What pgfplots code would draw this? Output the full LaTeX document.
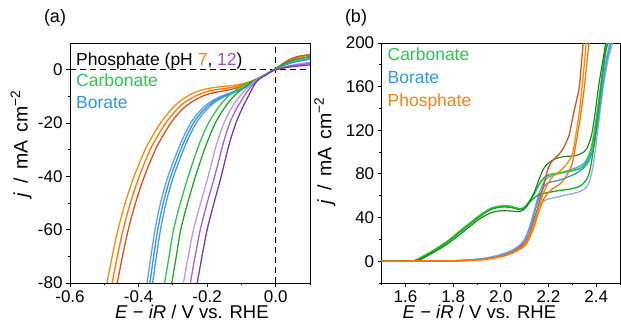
\documentclass[border=0pt]{standalone}
\usepackage{fontspec}
\setmainfont{Liberation Sans}
\usepackage{pgfplots}
\pgfplotsset{compat=1.18}
\definecolor{orA}{RGB}{255,140,0}
\definecolor{orB}{RGB}{246,120,12}
\definecolor{redO}{RGB}{222,78,22}
\definecolor{bluA}{RGB}{55,145,230}
\definecolor{bluB}{RGB}{85,165,240}
\definecolor{bluC}{RGB}{70,155,225}
\definecolor{lav}{RGB}{150,165,245}
\definecolor{grnA}{RGB}{45,200,60}
\definecolor{grnB}{RGB}{25,170,35}
\definecolor{grnD}{RGB}{20,125,25}
\definecolor{purA}{RGB}{195,150,235}
\definecolor{purB}{RGB}{160,100,215}
\definecolor{purC}{RGB}{120,55,185}
\definecolor{txtgreen}{RGB}{40,200,80}
\definecolor{txtblue}{RGB}{50,150,240}
\definecolor{txtorange}{RGB}{245,130,20}
\definecolor{txtpurple}{RGB}{160,80,200}
\newcommand{\ylab}{\textit{j}\hspace{0.45em}/\hspace{0.45em}mA\hspace{0.4em}cm\textsuperscript{−2}}
\pgfplotsset{
  myax/.style={
    scale only axis, width=240pt, height=240pt, anchor=south west,
    tick align=outside, tick pos=left,
    major tick length=4pt, minor tick length=2.5pt,
    axis line style={line width=0.9pt},
    every tick/.style={black, line width=0.9pt},
    tick label style={font=\fontsize{17}{17}\selectfont},
    xlabel style={font=\fontsize{18.5}{18.5}\selectfont},
    ylabel style={font=\fontsize{19.5}{19.5}\selectfont},
    /pgf/number format/assume math mode=true,
    clip=true,
    every axis plot/.append style={line width=1.3pt, no markers, smooth, tension=0.5},
  }
}
\begin{document}
\begin{tikzpicture}[x=1pt,y=1pt]
\useasboundingbox (0,0) rectangle (621,323);
\node[font=\fontsize{18}{18}\selectfont] at (55,305) {(a)};
\node[font=\fontsize{18}{18}\selectfont] at (356,305) {(b)};
\begin{axis}[myax, at={(70pt,40pt)},
  xmin=-0.6, xmax=0.1, ymin=-80, ymax=10,
  xtick={-0.6,-0.4,-0.2,0}, minor xtick={-0.5,-0.3,-0.1,0.1},
  ytick={-80,-60,-40,-20,0}, minor ytick={-70,-50,-30,-10},
  xticklabel style={/pgf/number format/fixed, /pgf/number format/fixed zerofill, /pgf/number format/precision=1},
  xlabel={\textit{E} − \textit{iR} / V vs. RHE},
  ylabel={\ylab},
  xlabel style={at={(axis description cs:0.508,-0.15)}, anchor=base},
  ylabel style={at={(axis description cs:-0.204,0.58)}, anchor=center},
]
\addplot[black, line width=1pt, dash pattern=on 6pt off 4pt, sharp plot] coordinates {(-0.6,0) (0.1,0)};
\addplot[black, line width=1pt, dash pattern=on 6pt off 4pt, sharp plot] coordinates {(0,-80) (0,10)};
% Phosphate pH 7
\addplot[orA] coordinates {(-0.492,-80) (-0.477,-70) (-0.460,-60) (-0.439,-50) (-0.413,-40) (-0.381,-30) (-0.36,-25) (-0.336,-20) (-0.312,-16) (-0.29,-13) (-0.265,-10.5) (-0.24,-8.8) (-0.215,-7.6) (-0.19,-6.9) (-0.16,-6.4) (-0.13,-6) (-0.1,-5.4) (-0.08,-4.7) (-0.065,-4.1) (-0.045,-3) (-0.025,-1.6) (-0.01,-0.5) (0,0.2) (0.02,1.8) (0.04,3.3) (0.06,4.4) (0.08,5.1) (0.1,5.4)};
\addplot[orB] coordinates {(-0.477,-80) (-0.462,-70) (-0.445,-60) (-0.424,-50) (-0.398,-40) (-0.366,-30) (-0.345,-25) (-0.321,-20) (-0.296,-16) (-0.273,-13) (-0.247,-10.8) (-0.222,-9.2) (-0.197,-8.1) (-0.17,-7.4) (-0.14,-6.9) (-0.115,-6.3) (-0.092,-5.4) (-0.075,-4.6) (-0.062,-4) (-0.045,-3) (-0.025,-1.6) (-0.01,-0.45) (0,0.3) (0.02,2) (0.04,3.5) (0.06,4.6) (0.08,5.2) (0.1,5.5)};
\addplot[redO] coordinates {(-0.462,-80) (-0.447,-70) (-0.43,-60) (-0.409,-50) (-0.383,-40) (-0.351,-30) (-0.33,-25) (-0.306,-20) (-0.281,-16) (-0.257,-13.2) (-0.23,-11) (-0.205,-9.5) (-0.18,-8.6) (-0.155,-8) (-0.13,-7.4) (-0.105,-6.5) (-0.085,-5.3) (-0.07,-4.4) (-0.058,-3.7) (-0.045,-2.9) (-0.025,-1.6) (-0.01,-0.4) (0,0.4) (0.02,2.2) (0.04,3.8) (0.06,4.8) (0.08,5.3) (0.1,5.6)};
% Borate
\addplot[bluB] coordinates {(-0.375,-80) (-0.364,-70) (-0.352,-60) (-0.336,-50) (-0.314,-40) (-0.285,-30) (-0.268,-25) (-0.248,-20) (-0.228,-16.5) (-0.205,-13.5) (-0.182,-11.4) (-0.16,-10) (-0.14,-9) (-0.12,-8.1) (-0.1,-7.1) (-0.082,-5.9) (-0.066,-4.6) (-0.05,-3.5) (-0.032,-2.1) (-0.012,-0.5) (0,0.3) (0.03,1.9) (0.06,3) (0.1,4)};
\addplot[bluA] coordinates {(-0.367,-80) (-0.356,-70) (-0.344,-60) (-0.328,-50) (-0.306,-40) (-0.277,-30) (-0.26,-25) (-0.24,-20) (-0.22,-16.5) (-0.197,-13.5) (-0.175,-11.4) (-0.153,-10) (-0.133,-9) (-0.114,-8) (-0.095,-7) (-0.078,-5.8) (-0.065,-4.6) (-0.05,-3.5) (-0.032,-2.1) (-0.012,-0.5) (0,0.3) (0.03,1.9) (0.06,3) (0.1,4)};
\addplot[bluC] coordinates {(-0.359,-80) (-0.348,-70) (-0.336,-60) (-0.32,-50) (-0.298,-40) (-0.269,-30) (-0.252,-25) (-0.232,-20) (-0.212,-16.5) (-0.19,-13.5) (-0.168,-11.4) (-0.147,-10) (-0.127,-8.9) (-0.108,-7.9) (-0.09,-6.8) (-0.075,-5.7) (-0.064,-4.6) (-0.05,-3.5) (-0.032,-2.1) (-0.012,-0.5) (0,0.4) (0.03,2.1) (0.06,3.2) (0.1,4.2)};
% Carbonate
\addplot[grnA] coordinates {(-0.324,-80) (-0.311,-70) (-0.298,-60) (-0.278,-50) (-0.255,-40) (-0.229,-30) (-0.214,-25) (-0.196,-20) (-0.177,-16) (-0.16,-13) (-0.143,-10.5) (-0.125,-8.5) (-0.108,-7) (-0.09,-5.6) (-0.068,-4.3) (-0.048,-3) (-0.027,-1.6) (-0.012,-0.5) (0,0.3) (0.03,2.4) (0.06,3.8) (0.1,4.8)};
\addplot[grnB] coordinates {(-0.303,-80) (-0.29,-70) (-0.277,-60) (-0.257,-50) (-0.234,-40) (-0.208,-30) (-0.193,-25) (-0.176,-20) (-0.158,-16) (-0.142,-13) (-0.126,-10.5) (-0.11,-8.5) (-0.096,-7) (-0.081,-5.6) (-0.066,-4.3) (-0.048,-3) (-0.027,-1.6) (-0.012,-0.5) (0,0.3) (0.03,2.5) (0.06,3.9) (0.1,4.9)};
% Phosphate pH 12
\addplot[purA] coordinates {(-0.269,-80) (-0.255,-70) (-0.24,-60) (-0.219,-50) (-0.197,-40) (-0.177,-30) (-0.165,-25) (-0.151,-20) (-0.136,-16) (-0.122,-13) (-0.108,-10.5) (-0.095,-8.5) (-0.084,-7) (-0.072,-5.6) (-0.062,-4.4) (-0.045,-3) (-0.026,-1.6) (-0.012,-0.6) (0,0) (0.03,1.2) (0.06,2) (0.1,2.8)};
\addplot[purB] coordinates {(-0.249,-80) (-0.235,-70) (-0.22,-60) (-0.2,-50) (-0.178,-40) (-0.158,-30) (-0.147,-25) (-0.134,-20) (-0.12,-16) (-0.107,-13) (-0.095,-10.5) (-0.085,-8.5) (-0.076,-7) (-0.067,-5.6) (-0.059,-4.5) (-0.044,-3.1) (-0.025,-1.7) (-0.012,-0.6) (0,0) (0.03,1) (0.06,1.7) (0.1,2.3)};
\addplot[purC] coordinates {(-0.229,-80) (-0.215,-70) (-0.2,-60) (-0.18,-50) (-0.159,-40) (-0.14,-30) (-0.129,-25) (-0.116,-20) (-0.103,-16) (-0.092,-13) (-0.082,-10.5) (-0.074,-8.5) (-0.068,-7) (-0.062,-5.6) (-0.056,-4.5) (-0.043,-3.1) (-0.025,-1.7) (-0.012,-0.6) (0,0) (0.03,0.8) (0.06,1.3) (0.1,1.8)};
\node[anchor=base west, font=\fontsize{17.5}{17.5}\selectfont] at (axis description cs:0.011,0.908) {Phosphate (pH {\color{txtorange}7}, {\color{txtpurple}12})};
\node[anchor=base west, font=\fontsize{17.5}{17.5}\selectfont, text=txtgreen] at (axis description cs:0.011,0.818) {Carbonate};
\node[anchor=base west, font=\fontsize{17.5}{17.5}\selectfont, text=txtblue] at (axis description cs:0.011,0.728) {Borate};
\end{axis}
\begin{axis}[myax, at={(381.7pt,40pt)}, width=238.3pt,
  xmin=1.5, xmax=2.5, ymin=-20, ymax=200,
  xtick={1.6,1.8,2.0,2.2,2.4}, minor xtick={1.5,1.7,1.9,2.1,2.3,2.5},
  ytick={0,40,80,120,160,200}, minor ytick={-20,20,60,100,140,180},
  xticklabel style={/pgf/number format/fixed, /pgf/number format/fixed zerofill, /pgf/number format/precision=1},
  xlabel={\textit{E} − \textit{iR} / V vs. RHE},
  ylabel={\ylab},
  xlabel style={at={(axis description cs:0.41,-0.15)}, anchor=base},
  ylabel style={at={(axis description cs:-0.238,0.55)}, anchor=center},
]
% Borate
\addplot[lav] coordinates {(1.5,0) (1.75,0.2) (1.85,1) (1.92,2.4) (1.97,4.5) (2.01,7) (2.05,10.5) (2.08,15) (2.1,20) (2.12,28) (2.14,40) (2.16,50) (2.18,55) (2.2,57) (2.24,59) (2.28,61) (2.32,63) (2.35,66) (2.37,72) (2.385,85) (2.4,108) (2.415,135) (2.43,160) (2.45,185) (2.47,200)};
\addplot[bluA] coordinates {(1.5,0) (1.75,0.2) (1.85,0.8) (1.92,2) (1.97,3.8) (2.01,6) (2.05,9.5) (2.08,14) (2.1,20) (2.12,30) (2.14,44) (2.16,58) (2.18,68) (2.2,72) (2.24,74) (2.28,77) (2.32,81) (2.35,86) (2.37,92) (2.39,105) (2.405,125) (2.418,145) (2.43,165) (2.445,185) (2.462,200)};
\addplot[bluB] coordinates {(1.5,0) (1.75,0.2) (1.85,0.8) (1.92,2) (1.97,3.8) (2.01,6) (2.05,9.5) (2.08,14) (2.1,20) (2.12,31) (2.14,46) (2.16,62) (2.18,72) (2.2,77) (2.24,80) (2.28,83) (2.32,86) (2.35,90) (2.37,98) (2.39,110) (2.405,128) (2.418,148) (2.43,168) (2.445,188) (2.458,200)};
% Carbonate
\addplot[grnA, line width=1.8pt] coordinates {(1.5,0) (1.62,0) (1.645,1.2) (1.70,7.6) (1.77,17.3) (1.84,29.5) (1.91,41.6) (1.96,48.5) (2.0,50.5) (2.04,50.3) (2.08,48) (2.1,49.5) (2.12,55) (2.14,62) (2.16,70) (2.18,76) (2.2,79) (2.25,81) (2.3,83) (2.34,86) (2.37,95) (2.39,115) (2.41,145) (2.425,170) (2.44,195) (2.445,200)};
\addplot[grnB] coordinates {(1.5,0) (1.625,0) (1.65,1.2) (1.70,7) (1.77,16.5) (1.84,28.5) (1.91,40.5) (1.96,47.5) (2.0,49.5) (2.04,49.3) (2.08,47.3) (2.1,49) (2.12,54) (2.14,58) (2.16,61) (2.2,63) (2.25,65) (2.3,66.5) (2.34,70) (2.37,80) (2.39,105) (2.41,140) (2.425,168) (2.44,192) (2.45,200)};
\addplot[grnD, line width=1.1pt] coordinates {(1.5,0) (1.635,0) (1.66,1.2) (1.70,5.8) (1.77,14.9) (1.84,26.5) (1.91,38.6) (1.96,44.5) (2.0,46.2) (2.04,46) (2.08,45.5) (2.1,48) (2.12,54) (2.14,63) (2.16,75) (2.18,85) (2.2,90) (2.23,94) (2.27,96) (2.31,96.5) (2.34,99) (2.36,103) (2.38,115) (2.395,135) (2.41,160) (2.425,180) (2.44,200)};
% Phosphate
\addplot[redO] coordinates {(1.5,0) (1.75,0.1) (1.85,0.6) (1.92,1.6) (1.97,3.2) (2.01,5.2) (2.05,8.5) (2.08,12.5) (2.1,17) (2.12,25) (2.14,38) (2.16,53) (2.18,70) (2.2,86) (2.22,93) (2.24,97) (2.258,102) (2.272,108) (2.286,115) (2.30,130) (2.315,145) (2.328,158) (2.337,178) (2.345,200)};
\addplot[orA] coordinates {(1.5,0) (1.75,0.1) (1.85,0.5) (1.92,1.4) (1.97,2.9) (2.01,4.8) (2.05,8) (2.08,11.5) (2.1,15) (2.12,23) (2.14,35) (2.16,50) (2.18,63) (2.2,72) (2.22,78) (2.25,83) (2.28,90) (2.3,98) (2.314,115) (2.328,135) (2.34,158) (2.35,180) (2.358,200)};
\addplot[orB] coordinates {(1.5,0) (1.75,0.1) (1.85,0.5) (1.92,1.3) (1.97,2.7) (2.01,4.5) (2.05,7.5) (2.08,11) (2.1,14) (2.12,21) (2.14,32) (2.16,46) (2.18,57) (2.2,63) (2.22,67) (2.25,71) (2.28,80) (2.3,90) (2.317,110) (2.332,130) (2.349,157) (2.36,180) (2.37,200)};
\node[anchor=base west, font=\fontsize{17.5}{17.5}\selectfont, text=txtgreen] at (axis description cs:0.01,0.929) {Carbonate};
\node[anchor=base west, font=\fontsize{17.5}{17.5}\selectfont, text=txtblue] at (axis description cs:0.01,0.832) {Borate};
\node[anchor=base west, font=\fontsize{17.5}{17.5}\selectfont, text=txtorange] at (axis description cs:0.01,0.735) {Phosphate};
\end{axis}
\end{tikzpicture}
\end{document}
